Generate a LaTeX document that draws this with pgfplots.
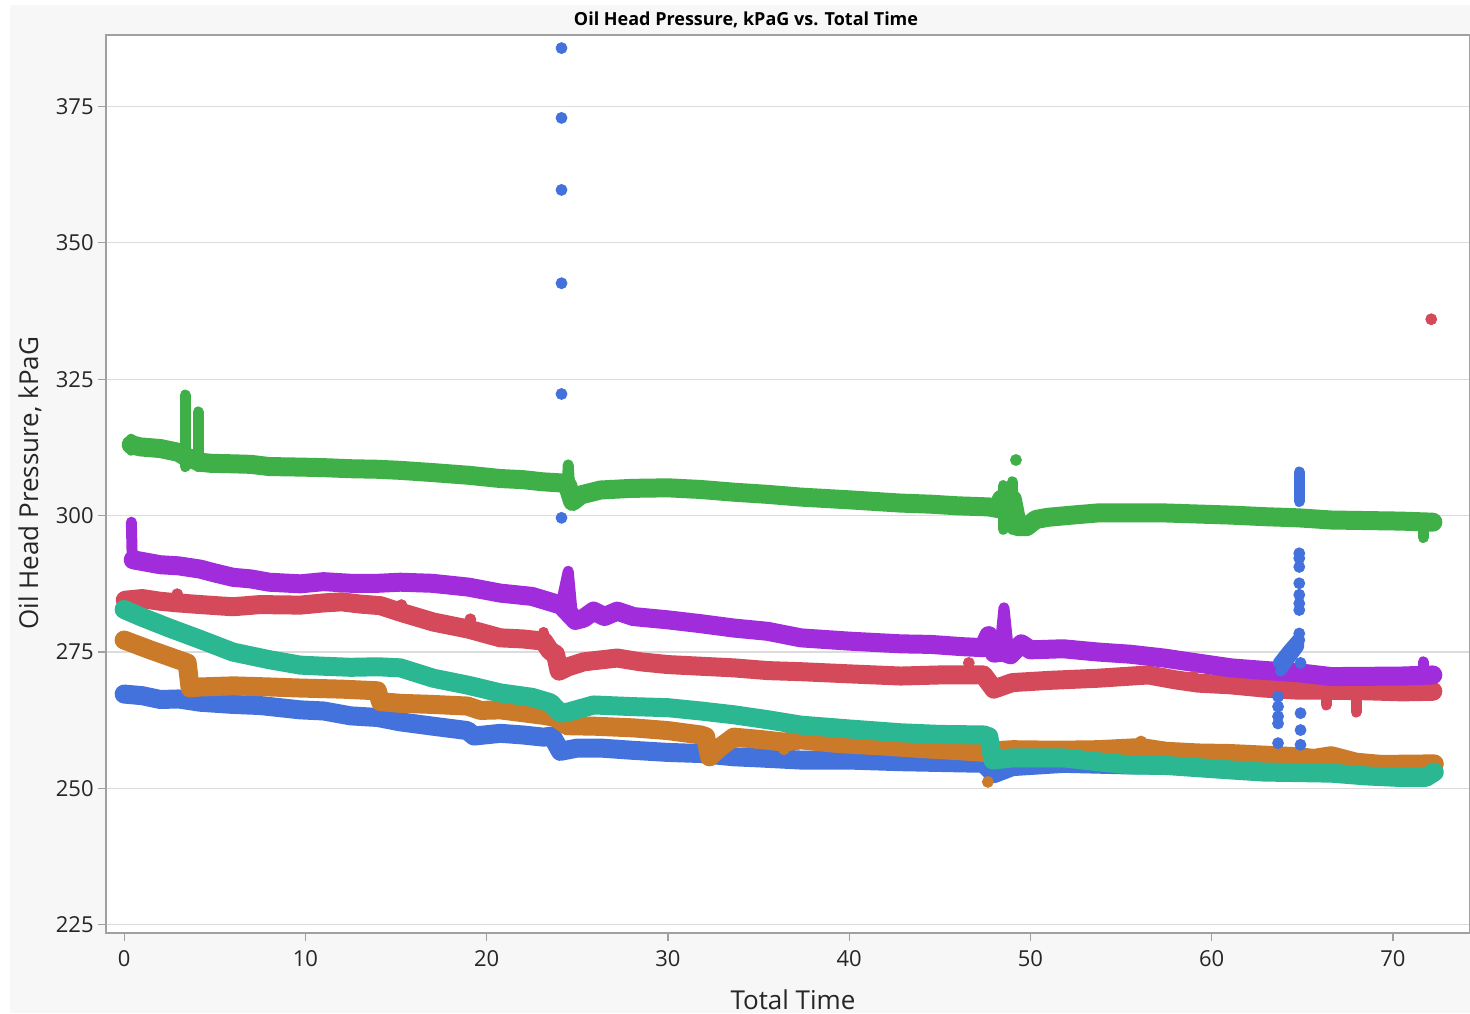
\documentclass[border=0pt]{standalone}
\usepackage{pgfplots}
\pgfplotsset{compat=1.18}
\usepackage{fontspec}
\setmainfont{Open Sans}
\setsansfont{Open Sans}
\pgfdeclarelayer{background}
\pgfsetlayers{background,main}
\definecolor{cgreen}{HTML}{3FAF47}
\definecolor{cpurple}{HTML}{A12CDC}
\definecolor{cred}{HTML}{D44A5A}
\definecolor{cteal}{HTML}{2BB792}
\definecolor{corange}{HTML}{CB7A2A}
\definecolor{cblue}{HTML}{4472DC}
\definecolor{bggray}{HTML}{F7F7F7}
\definecolor{framegray}{HTML}{A0A0A0}
\definecolor{gridgray}{HTML}{DCDCDC}
\tikzset{
  band/.style={line width=9.5pt, line cap=round, line join=round},
  thinb/.style={line width=5.5pt, line cap=round, line join=round},
}
\begin{document}
\begin{tikzpicture}
\begin{axis}[
  scale only axis, width=682pt, height=449pt,
  xmin=-1, xmax=74.25, ymin=223.5, ymax=388.1,
  axis background/.style={fill=white},
  axis line style={framegray, line width=0.6pt},
  xtick={0,10,...,70}, ytick={225,250,...,375},
  ymajorgrids, grid style={gridgray, line width=0.6pt},
  tick align=outside, major tick length=4pt,
  tick style={framegray, line width=0.6pt},
  tick pos=left,
  ticklabel style={font=\fontsize{11}{13}\selectfont, text=black!85},
  /pgf/number format/assume math mode=true,
  xticklabel style={anchor=center, yshift=-9pt},
  yticklabel style={anchor=east, inner sep=0pt, xshift=-2pt},
  title={Oil Head Pressure, kPaG vs. Total Time},
  title style={at={(axis description cs:0,1)}, anchor=center, xshift=320pt, yshift=1.5pt, font=\fontsize{9}{11}\selectfont\bfseries},
  xlabel={Total Time},
  x label style={at={(axis description cs:0.5,0)}, anchor=center, yshift=-33.5pt, xshift=2.5pt, font=\fontsize{13}{15}\selectfont, text=black!85},
  ylabel={Oil Head Pressure, kPaG},
  y label style={at={(axis description cs:-0.0557,0.501)}, anchor=center, font=\fontsize{13}{15}\selectfont, text=black!85},
  no markers,
]
% ---------- blue main band ----------
\addplot[cblue, band] coordinates {
(0.0,267.3)(1.0,267.0)(2.0,266.3)(3.0,266.4)(4.2,265.8)(6,265.4)(7.5,265.2)(9.72,264.4)(11,264.2)(12.5,263.3)(14,263.0)(15.24,262.2)(17.06,261.4)(18.94,260.6)(19.3,259.6)(20.76,260.1)(22,259.8)(23.14,259.4)(23.6,259.6)
(24.07,256.8)(25,257.4)(26.28,257.4)(28,257.0)(30,256.6)(31.8,256.4)(33.63,255.8)(35,255.6)(37.33,255.2)(40,255.2)(42.85,254.9)(47.43,254.6)(47.98,252.7)(49,254.0)(51.85,254.6)(55.5,254.3)(62.9,254.3)(65,254)(72,253.5)};
% ---------- red ----------
\addplot[cred, band] coordinates {
(0.06,284.5)(1.0,284.8)(2,284.3)(3,284.0)(4.2,283.7)(6,283.3)(7.5,283.7)(9.72,283.6)(11,284.0)(12,284.2)(13,283.8)(14.14,283.5)(15.24,282.3)(17.06,280.5)(19,279.2)(20.76,277.6)(22,277.4)(23.14,277.0)(23.5,275.2)(23.8,274.6)
(24.0,271.5)(24.5,272.3)(25.35,273.2)(27.2,273.9)(28.5,273.2)(30,272.7)(31.8,272.4)(33.63,272.1)(35.5,271.6)(37.33,271.4)(40,271.0)(42.85,270.6)(45,270.8)(47.4,270.8)
(47.98,268.2)(49.0,269.4)(51,269.8)(53.73,270.2)(56.5,270.8)(58,269.9)(59.25,269.3)(61,269.0)(62.89,268.4)(64.8,268)(66.6,268)(68.5,267.9)(70.5,267.7)(72.2,267.8)};
\addplot[cred, thinb] coordinates {(66.32,268)(66.32,265.3)};
\addplot[cred, thinb] coordinates {(67.97,268)(67.97,264.0)};
\addplot[cred, thinb] coordinates {(23.14,277.5)(23.14,278.6)};
\addplot[cred, only marks, mark=*, mark size=2.75pt] coordinates {(2.93,285.6)(15.3,283.6)(19.1,281.0)(46.6,273.0)(59.0,270.5)(72.11,336.0)};
% ---------- purple ----------
\addplot[cpurple, band] coordinates {
(0.5,291.9)(1.0,291.6)(2.0,291)(3,290.8)(4.2,290.2)(5,289.5)(6.0,288.7)(7,288.4)(8,287.8)(9.72,287.5)(11,287.9)(12.5,287.6)(14,287.6)(15.24,287.8)(17,287.6)(19,286.9)(20.76,285.8)(22.5,285.2)(23.5,284.2)(24.1,283.6)
(24.9,280.8)(25.35,281.2)(25.9,282.5)(26.5,281.5)(27.2,282.5)(28.1,281.5)(30,280.9)(31.8,280.2)(33.63,279.4)(35.5,278.8)(37.33,277.6)(40,277.0)(42.85,276.5)(44.5,276.4)(46.16,276.0)(47.4,275.8)(47.7,278.0)(48.0,274.8)(48.5,275)(48.9,274.5)(49.5,276.5)(50,275.4)(51.8,275.6)(53.73,275)(55.5,274.6)(57.37,273.9)(59.2,273.0)(61.07,272.1)(63,271.6)(64.8,271.2)(66.6,270.5)(70.46,270.6)(72.2,270.8)};
\addplot[cpurple, thinb] coordinates {(0.4,298.8)(0.45,291.5)};
\addplot[cpurple, thinb] coordinates {(24.1,283.6)(24.5,289.8)(24.75,281)};
\addplot[cpurple, thinb] coordinates {(48.3,275)(48.54,283.1)(48.8,274.8)};
\addplot[cpurple, thinb] coordinates {(71.67,273.2)(71.67,270.6)};
% ---------- orange ----------
\addplot[corange, band] coordinates {
(0.0,277.2)(1.44,275.4)(3.48,273.0)
(3.64,268.4)(4.2,268.6)(6.02,268.8)(8,268.6)(9.72,268.4)(12,268.2)(13.97,267.9)(14.14,265.9)(15.24,265.6)(17,265.4)(18.94,265.1)(19.66,264.3)(20.76,264.4)(23.14,263.4)(23.8,263.0)(24.46,261.5)(26,261.4)(28.1,261.1)(30,260.6)(31.81,259.8)(32.08,259.5)(32.3,255.8)(32.9,257.6)(33.63,259.4)(35,259.0)(36.39,258.5)(37.33,258.9)(39.5,258.2)(41.74,257.8)(44,257.3)(46.16,256.9)(47.5,256.6)(48.5,257)(49.03,257.1)(51.5,257.0)(53.73,257.1)(56.1,257.5)(57.5,256.8)(59.25,256.5)(61,256.4)(62.89,256.1)(64.77,255.8)(65.65,255.5)(66.59,256.0)(67.97,254.8)(69.35,254.4)(72.28,254.5)};
\addplot[corange, only marks, mark=*, mark size=2.75pt] coordinates {(47.65,251.2)(36.4,257.2)(56.1,258.6)};
% ---------- teal ----------
\addplot[cteal, band] coordinates {
(0.0,282.8)(0.9,281.5)(2.5,279.4)(4.2,277.3)(6.0,275.0)(8,273.6)(9.72,272.6)(11,272.4)(12.5,272.2)(14,272.3)(15.24,272.1)(17.06,270.2)(19,268.9)(20.76,267.5)(22.5,266.7)(23.52,265.7)(24.07,263.8)(24.5,264.0)(25.9,265.3)(28,265.0)(30,264.8)(31.8,264.2)(33.63,263.5)(35.5,262.6)(37.33,261.6)(40,260.9)(42.85,260.2)(45,259.9)(47.43,259.8)(47.7,259.5)(47.93,255.2)(49.0,255.6)(51.85,255.6)(53.7,254.9)(55.55,254.3)(57.5,254.2)(59.25,253.8)(61,253.4)(62.89,253)(64.8,252.9)(66.6,252.8)(68.5,252.3)(70.46,252)(71.8,252)(72.28,253)};
% ---------- green ----------
\addplot[cgreen, band] coordinates {
(0.39,313.0)(0.9,312.6)(2.0,312.3)(3.0,311.6)(3.4,310.8)(4.2,309.8)(4.75,309.6)(6.0,309.5)(7,309.4)(8,309)(9.72,308.9)(11,308.8)(12.5,308.6)(14,308.5)(15.24,308.3)(17,307.9)(19,307.4)(20.76,306.8)(22,306.6)(23.1,306.2)(24.1,306)(24.46,305.6)
(24.74,302.6)(25.2,303.8)(26.28,304.7)(28,305.0)(30,305.1)(31.8,304.8)(33.63,304.3)(35.5,303.9)(37.33,303.4)(40,302.9)(42.85,302.3)(44.5,302.1)(46,301.8)(47.7,301.6)(48.2,301.3)
(48.4,303)(48.7,300)(49.0,303)(49.3,298)(49.8,298)(50.3,299.3)(50.97,299.7)(52.3,300.1)(53.73,300.5)(55.5,300.5)(57.37,300.5)(59.2,300.3)(61.07,300.1)(63,299.8)(64.77,299.6)(66.59,299.2)(68.5,299.1)(70.46,299)(72.2,298.8)};
\addplot[cgreen, thinb] coordinates {(3.37,309)(3.37,322.1)};
\addplot[cgreen, thinb] coordinates {(4.09,309)(4.09,319.0)};
\addplot[cgreen, thinb] coordinates {(0.39,312)(0.39,314.0)};
\addplot[cgreen, thinb] coordinates {(24.46,306)(24.5,309.3)(24.6,304)(24.74,302)};
\addplot[cgreen, thinb] coordinates {(48.5,297.5)(48.5,305.5)};
\addplot[cgreen, thinb] coordinates {(49.0,297.5)(49.0,306.2)};
\addplot[cgreen, thinb] coordinates {(71.67,299)(71.67,296)};
\addplot[cgreen, only marks, mark=*, mark size=2.75pt] coordinates {(49.2,310.2)};
% ---------- blue outliers and spikes ----------
\addplot[cblue, only marks, mark=*, mark size=2.75pt] coordinates {
(24.13,385.7)(24.13,372.9)(24.13,359.7)(24.13,342.6)(24.13,322.3)(24.13,299.6)
(64.83,293.1)(64.83,292.2)(64.83,290.6)(64.83,287.6)(64.83,285.5)(64.83,283.9)(64.83,282.7)(64.83,278.4)(64.83,277.2)
(63.66,266.8)(63.66,265.0)(63.66,263.2)(63.66,261.9)(63.66,258.3)
(64.9,273.0)(64.9,263.8)(64.9,260.7)(64.9,258.0)};
\addplot[cblue, thinb] coordinates {(64.83,302.6)(64.83,308.0)};
\addplot[cblue, thinb] coordinates {(63.66,273.0)(64.2,275.3)(64.8,277.6)(64.8,276)(63.8,271.5)};
\end{axis}
\begin{pgfonlayer}{background}
\fill[white] (-53pt,-40pt) rectangle (682pt,466.5pt);
\fill[bggray] (-48pt,-40pt) rectangle (682pt,464pt);
\end{pgfonlayer}
\pgfresetboundingbox
\useasboundingbox (-53pt,-40pt) rectangle (682pt,466.5pt);
\end{tikzpicture}
\end{document}
